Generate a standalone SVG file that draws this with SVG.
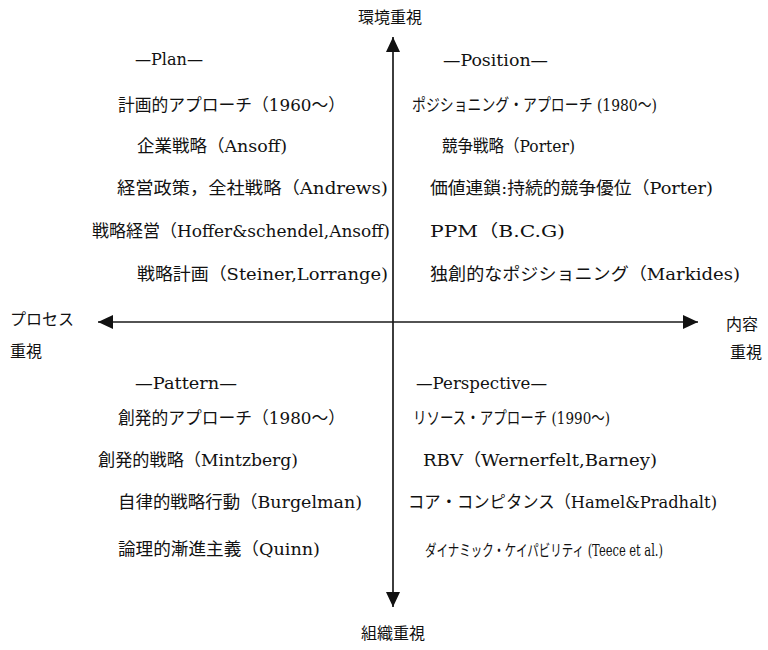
<svg xmlns="http://www.w3.org/2000/svg" width="768" height="650" viewBox="0 0 768 650">
<defs>
<style>
.t{font-family:"DejaVu Serif","Noto Sans CJK JP",serif;font-size:17px;fill:#111}
.a{font-family:"Noto Sans CJK JP","DejaVu Serif",sans-serif;font-size:16px;fill:#111}
.ax{stroke:#1a1a1a;stroke-width:1.7;fill:none}
</style>
<marker id="arr" viewBox="0 0 15 14" refX="15" refY="7" markerWidth="15" markerHeight="14" markerUnits="userSpaceOnUse" orient="auto-start-reverse">
<path d="M0,0 L15,7 L0,14 z" fill="#111"/>
</marker>
</defs>
<rect width="768" height="650" fill="#fff"/>
<g id="connectors">
<line class="ax" x1="393" y1="37" x2="393" y2="607" marker-start="url(#arr)" marker-end="url(#arr)"/>
<line class="ax" x1="98" y1="322" x2="698" y2="322" marker-start="url(#arr)" marker-end="url(#arr)"/>
</g>
<g id="axis-labels">
<g id="label-top"><text class="a" x="390" y="23" text-anchor="middle">環境重視</text></g>
<g id="label-bottom"><text class="a" x="393" y="639" text-anchor="middle">組織重視</text></g>
<g id="label-left"><text class="a" x="10" y="325">プロセス</text><text class="a" x="10" y="357">重視</text></g>
<g id="label-right"><text class="a" x="726" y="330">内容</text><text class="a" x="730" y="358">重視</text></g>
</g>
<g id="plan">
<text class="t" x="135" y="65" textLength="68" lengthAdjust="spacingAndGlyphs">—Plan—</text>
<text class="t" x="118" y="111" textLength="227" lengthAdjust="spacingAndGlyphs">計画的アプローチ（1960～）</text>
<text class="t" x="137" y="152" textLength="150" lengthAdjust="spacingAndGlyphs">企業戦略（Ansoff)</text>
<text class="t" x="117" y="194" textLength="271" lengthAdjust="spacingAndGlyphs">経営政策，全社戦略（Andrews)</text>
<text class="t" x="92" y="237" textLength="298" lengthAdjust="spacingAndGlyphs">戦略経営（Hoffer&amp;schendel,Ansoff)</text>
<text class="t" x="137" y="280" textLength="251" lengthAdjust="spacingAndGlyphs">戦略計画（Steiner,Lorrange)</text>
</g>
<g id="position">
<text class="t" x="443" y="66" textLength="105" lengthAdjust="spacingAndGlyphs">—Position—</text>
<text class="t" x="412" y="111" textLength="245" lengthAdjust="spacingAndGlyphs">ポジショニング・アプローチ (1980～)</text>
<text class="t" x="442" y="152" textLength="133" lengthAdjust="spacingAndGlyphs">競争戦略（Porter)</text>
<text class="t" x="430" y="194" textLength="283" lengthAdjust="spacingAndGlyphs">価値連鎖:持続的競争優位（Porter)</text>
<text class="t" x="430" y="237" textLength="135" lengthAdjust="spacingAndGlyphs">PPM（B.C.G)</text>
<text class="t" x="430" y="280" textLength="310" lengthAdjust="spacingAndGlyphs">独創的なポジショニング（Markides)</text>
</g>
<g id="pattern">
<text class="t" x="135" y="389" textLength="102" lengthAdjust="spacingAndGlyphs">—Pattern—</text>
<text class="t" x="118" y="424" textLength="227" lengthAdjust="spacingAndGlyphs">創発的アプローチ（1980～）</text>
<text class="t" x="98" y="466" textLength="200" lengthAdjust="spacingAndGlyphs">創発的戦略（Mintzberg)</text>
<text class="t" x="118" y="508" textLength="244" lengthAdjust="spacingAndGlyphs">自律的戦略行動（Burgelman)</text>
<text class="t" x="118" y="555" textLength="202" lengthAdjust="spacingAndGlyphs">論理的漸進主義（Quinn)</text>
</g>
<g id="perspective">
<text class="t" x="416" y="389" textLength="131" lengthAdjust="spacingAndGlyphs">—Perspective—</text>
<text class="t" x="413" y="424" textLength="197" lengthAdjust="spacingAndGlyphs">リソース・アプローチ (1990～)</text>
<text class="t" x="423" y="466" textLength="234" lengthAdjust="spacingAndGlyphs">RBV（Wernerfelt,Barney)</text>
<text class="t" x="408" y="508" textLength="309" lengthAdjust="spacingAndGlyphs">コア・コンピタンス（Hamel&amp;Pradhalt)</text>
<text class="t" x="425" y="556" textLength="238" lengthAdjust="spacingAndGlyphs" style="font-size:16px">ダイナミック・ケイパビリティ (Teece et al.)</text>
</g>
</svg>
